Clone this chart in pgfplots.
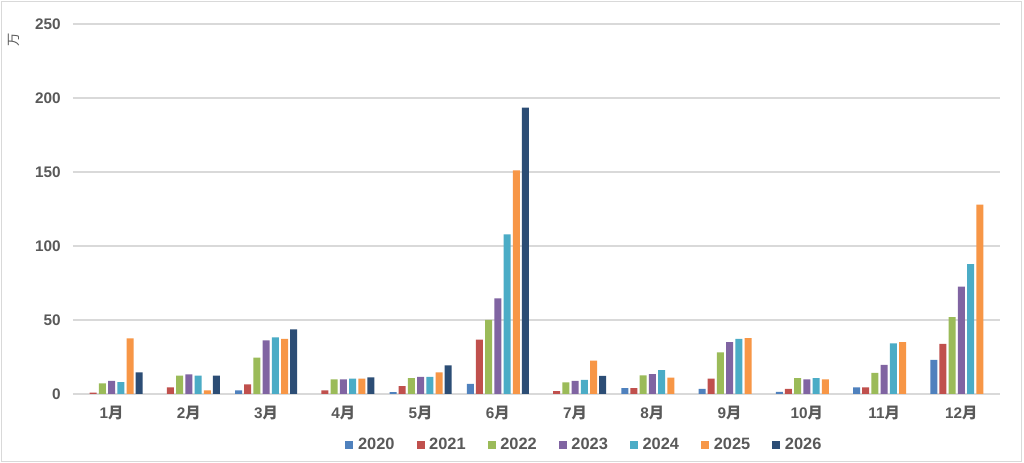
\documentclass[border=0pt]{standalone}
\usepackage{pgfplots}
\pgfplotsset{compat=1.18}
\usepackage{fontspec}
\setmainfont{Liberation Sans}
\newfontfamily\cjk{Noto Sans CJK SC}
\definecolor{c2020}{HTML}{4F81BD}
\definecolor{c2021}{HTML}{C0504D}
\definecolor{c2022}{HTML}{9BBB59}
\definecolor{c2023}{HTML}{8064A2}
\definecolor{c2024}{HTML}{4BACC6}
\definecolor{c2025}{HTML}{F79646}
\definecolor{c2026}{HTML}{2C4D75}
\definecolor{gridc}{HTML}{D9D9D9}
\definecolor{txtc}{HTML}{595959}
\definecolor{framec}{HTML}{D9D9D9}
\newcommand{\m}[1]{#1{\cjk 月}}
\begin{document}
\begin{tikzpicture}
\path[use as bounding box] (0pt,0pt) rectangle (768pt,347.25pt);
\fill[white] (0pt,0pt) rectangle (768pt,347.25pt);
\draw[framec, line width=1.2pt] (1.2pt,1.2pt) rectangle (766.2pt,346.2pt);
\begin{axis}[
  at={(54.75pt,51.75pt)}, anchor=south west,
  scale only axis, width=695.25pt, height=277.5pt,
  ybar=1.65pt, bar width=5.25pt,
  legend image code/.code={\fill[#1] (0pt,-3pt) rectangle (6pt,3pt);},
  xmin=-0.5, xmax=11.5, ymin=0, ymax=250,
  ytick={0,50,100,150,200,250},
  xtick={0,...,11},
  xticklabels={\m{1},\m{2},\m{3},\m{4},\m{5},\m{6},\m{7},\m{8},\m{9},\m{10},\m{11},\m{12}},
  /pgf/number format/assume math mode=true,
  major tick length=0pt,
  axis line style={draw=none},
  ymajorgrids, grid style={gridc, line width=0.9pt},
  tick label style={font=\fontsize{11.5}{13}\selectfont\bfseries, text=txtc},
  yticklabel style={inner sep=0pt, xshift=-9pt},
  xticklabel style={inner sep=0pt, yshift=-9pt},
  ylabel={{\cjk 万}},
  ylabel style={at={(axis description cs:-0.0636,0.957)}, anchor=center, font=\fontsize{10}{12}\selectfont, text=txtc},
  legend columns=7,
  legend style={at={(0.552,-0.138)}, anchor=center, draw=none, fill=none,
    font=\fontsize{12.3}{14}\selectfont\bfseries, text=txtc,
    /tikz/every even column/.append style={column sep=14.5pt},
    /tikz/every odd column/.append style={column sep=1.5pt}},
  clip=false,
]
\addplot[fill=c2020, draw=none] coordinates {(2,2.5)(4,1.3)(5,6.8)(7,4.0)(8,3.4)(9,1.4)(10,4.5)(11,23)};
\addplot[fill=c2021, draw=none] coordinates {(0,1)(1,4.5)(2,6.5)(3,2.5)(4,5.4)(5,36.7)(6,2)(7,4.0)(8,10.4)(9,3.4)(10,4.5)(11,33.8)};
\addplot[fill=c2022, draw=none] coordinates {(0,7.2)(1,12.4)(2,24.5)(3,9.9)(4,10.8)(5,50)(6,7.9)(7,12.6)(8,28.2)(9,10.8)(10,14.2)(11,52)};
\addplot[fill=c2023, draw=none] coordinates {(0,8.8)(1,13.3)(2,36.3)(3,9.9)(4,11.5)(5,64.6)(6,8.8)(7,13.5)(8,35.1)(9,9.9)(10,19.6)(11,72.5)};
\addplot[fill=c2024, draw=none] coordinates {(0,8.1)(1,12.4)(2,38.3)(3,10.4)(4,11.5)(5,107.9)(6,9.5)(7,16.2)(8,37.2)(9,10.8)(10,34.2)(11,87.8)};
\addplot[fill=c2025, draw=none] coordinates {(0,37.6)(1,2.5)(2,37.2)(3,10.4)(4,14.6)(5,151.1)(6,22.5)(7,11.0)(8,37.8)(9,9.9)(10,35.1)(11,127.9)};
\addplot[fill=c2026, draw=none] coordinates {(0,14.6)(1,12.4)(2,43.7)(3,11.3)(4,19.4)(5,193.5)(6,12.2)};
\legend{2020,2021,2022,2023,2024,2025,2026}
\end{axis}
\end{tikzpicture}
\end{document}
